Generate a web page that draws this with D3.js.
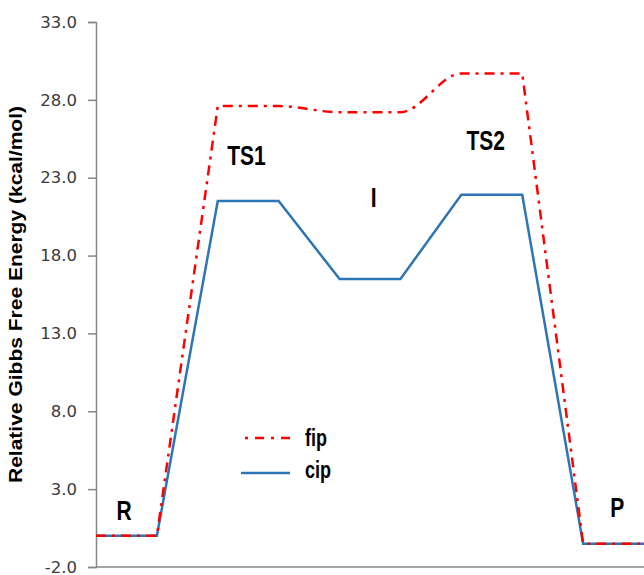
<!DOCTYPE html>
<html><head><meta charset="utf-8">
<script src="https://cdn.jsdelivr.net/npm/d3@7"></script>
<style>html,body{margin:0;padding:0;background:#fff;}svg{display:block;}</style>
</head><body>
<script>
// ---- data ----
const stages = ["R", "TS1", "I", "TS2", "P"];
const fip = [0, 0, 27.6, 27.6, 27.2, 27.2, 29.7, 29.7, -0.5, -0.5];
const cip = [0, 0, 21.5, 21.5, 16.5, 16.5, 21.9, 21.9, -0.5, -0.5];
const yTicks = [-2, 3, 8, 13, 18, 23, 28, 33];
const seriesNames = ["fip", "cip"];
// annotation anchors (stage-index units, energy units)
const labelIdx = [0.46, 2.47, 4.56, 6.40, 8.56];
const labelVal = [1.0, 23.8, 21.1, 24.8, 1.2];

const W = 644, H = 575;
const svg = d3.select("body").append("svg").attr("width", W).attr("height", H);

const x = d3.scaleLinear().domain([0, 9]).range([96, 644]);
const y = d3.scaleLinear().domain([-2, 33]).range([567, 22]);

// axes
const axisColor = "#868686";
const yAxis = d3.axisLeft(y).tickValues(yTicks).tickSize(8).tickPadding(11)
  .tickFormat(d => d.toFixed(1));
const gy = svg.append("g").attr("transform", "translate(96,0)").call(yAxis);
gy.select(".domain").attr("stroke", axisColor).attr("stroke-width", 1.5);
gy.selectAll(".tick line").attr("stroke", axisColor).attr("stroke-width", 1.5);
gy.selectAll(".tick text").attr("fill", "#3a3a3a")
  .style("font-family", "'DejaVu Sans', Verdana, sans-serif").style("font-size", "16.5px");

svg.append("line").attr("x1", 96).attr("x2", 644).attr("y1", y(-2)).attr("y2", y(-2))
  .attr("stroke", axisColor).attr("stroke-width", 1.5);

// title
svg.append("text")
  .attr("transform", `translate(22,${(106 + 483) / 2}) rotate(-90)`)
  .attr("text-anchor", "middle")
  .attr("textLength", 377).attr("lengthAdjust", "spacingAndGlyphs")
  .style("font-family", "'Liberation Sans', Arial, sans-serif")
  .style("font-weight", "bold").style("font-size", "18px").attr("fill", "#000")
  .text("Relative Gibbs Free Energy (kcal/mol)");

// lines
const idx = d3.range(fip.length);
const lin = d3.line().x(i => x(i)).y(i => y(fip[i]));
const mono = d3.line().x(i => x(i)).y(i => y(fip[i])).curve(d3.curveMonotoneX);
const fipPath = lin([0, 1, 2]) + mono([2, 3, 4, 5, 6, 7]).replace(/^M/, "L") + lin([7, 8, 9]).replace(/^M/, "L");

const cipLine = d3.line().x(i => x(i)).y(i => y(cip[i]));
svg.append("path").attr("d", cipLine(idx)).attr("fill", "none")
  .attr("stroke", "#2E75B6").attr("stroke-width", 2.5).attr("stroke-linejoin", "miter");

svg.append("path").attr("d", fipPath).attr("fill", "none")
  .attr("stroke", "#FF0000").attr("stroke-width", 2.5)
  .attr("stroke-dasharray", "10,6,3,6");

// stage labels
stages.forEach((s, k) => {
  svg.append("text")
    .attr("transform", `translate(${x(labelIdx[k])},${y(labelVal[k])}) scale(1,1.3)`)
    .attr("text-anchor", "middle")
    .style("font-family", "'Liberation Sans', Arial, sans-serif")
    .style("font-weight", "bold").style("font-size", "21px").attr("fill", "#000")
    .text(s);
});

// legend
const leg = [
  {name: seriesNames[0], color: "#FF0000", dash: "3,7,9,7", x1: 245, ly: 438, ty: 446},
  {name: seriesNames[1], color: "#2E75B6", dash: null, x1: 241, ly: 473, ty: 478}
];
leg.forEach(l => {
  const ln = svg.append("line").attr("x1", l.x1).attr("x2", 290).attr("y1", l.ly).attr("y2", l.ly)
    .attr("stroke", l.color).attr("stroke-width", 2.5);
  if (l.dash) ln.attr("stroke-dasharray", l.dash);
  svg.append("text").attr("transform", `translate(305,${l.ty}) scale(1,1.3)`)
    .style("font-family", "'Liberation Sans', Arial, sans-serif")
    .style("font-weight", "bold").style("font-size", "18px").attr("fill", "#000")
    .text(l.name);
});
</script>
</body></html>
